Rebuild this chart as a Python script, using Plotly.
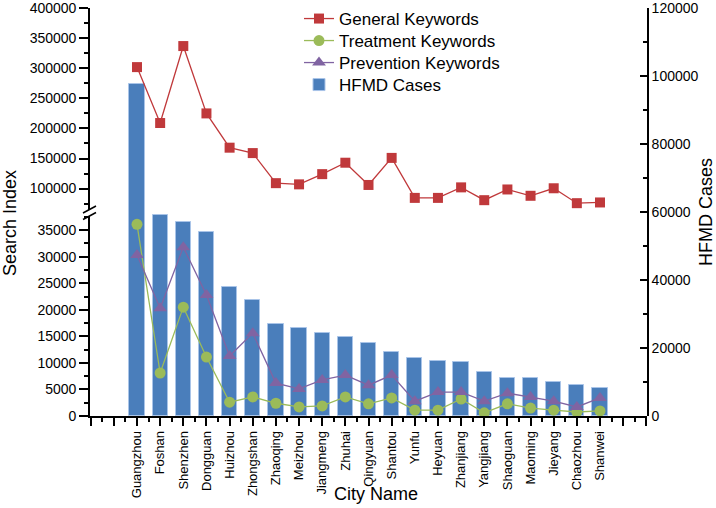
import plotly.graph_objects as go

cities = ["Guangzhou", "Foshan", "Shenzhen", "Dongguan", "Huizhou", "Zhongshan",
          "Zhaoqing", "Meizhou", "Jiangmeng", "Zhuhai", "Qingyuan", "Shantou",
          "Yunfu", "Heyuan", "Zhanjiang", "Yangjiang", "Shaoguan", "Maoming",
          "Jieyang", "Chaozhou", "Shanwei"]
general_kw = [302000, 209000, 337000, 225000, 168000, 159000, 109000, 107000, 124000,
              143000, 106000, 151000, 84500, 84500, 102000, 80700, 98500, 88000,
              100500, 75700, 76900]
treatment_kw = [36100, 8100, 20500, 11100, 2600, 3600, 2400, 1700, 1900, 3600, 2300,
                3400, 1100, 1100, 3200, 600, 2300, 1500, 1100, 750, 950]
prevention_kw = [30300, 20300, 31800, 22800, 11300, 15600, 6200, 5100, 6800, 7700, 5800,
                 7700, 2800, 4500, 4500, 2800, 4300, 3600, 2800, 1700, 3400]
hfmd_cases = [97600, 59100, 57100, 54100, 37900, 34100, 27100, 25900, 24400, 23200,
              21500, 18800, 17100, 16200, 15900, 12900, 11200, 11200, 10000, 9100, 8200]

xs = list(range(len(cities)))

# ---- layout geometry (page pixels) ----
W, H = 716, 508
PL, PR, PT, PB = 90, 647, 8, 416
PH = PB - PT
PW = PR - PL
low_top_px, up_bot_px = 216, 210
low_dom = [0, (PB - low_top_px) / PH]
up_dom = [(PB - up_bot_px) / PH, 1]
low_scale = 5.31 / 1000      # px per unit
up_scale = 0.6013 / 1000
low_max = (PB - low_top_px) / low_scale
up_top = 400300
up_min = up_top - (up_bot_px - PT) / up_scale

def px(x):
    return (x - PL) / PW

def py(y):
    return (PB - y) / PH

RED = "#C0393B"
GREEN = "#9BBB59"
PURPLE = "#8064A2"
BLUE = "#4A7EBB"
FONT = "Arial, Liberation Sans, sans-serif"

fig = go.Figure()
fig.add_trace(go.Scatter(x=xs, y=general_kw, name="General Keywords", mode="lines+markers",
                         yaxis="y3", line=dict(color=RED, width=1.3), legend="legend",
                         marker=dict(symbol="square", size=10, color=RED), cliponaxis=False))
fig.add_trace(go.Scatter(x=xs, y=treatment_kw, name="Treatment Keywords", mode="lines+markers",
                         yaxis="y2", line=dict(color=GREEN, width=1.3), legend="legend2",
                         marker=dict(symbol="circle", size=11, color=GREEN), cliponaxis=False))
fig.add_trace(go.Scatter(x=xs, y=prevention_kw, name="Prevention Keywords", mode="lines+markers",
                         yaxis="y2", line=dict(color=PURPLE, width=1.3), legend="legend3",
                         marker=dict(symbol="triangle-up", size=12, color=PURPLE), cliponaxis=False))
fig.add_trace(go.Bar(x=xs, y=hfmd_cases, name="HFMD Cases", yaxis="y", width=0.66,
                     legend="legend4",
                     marker=dict(color=BLUE, line=dict(color="#A9C4E8", width=1))))

axis_common = dict(showgrid=False, zeroline=False, showline=True, linecolor="black",
                   linewidth=1.6, tickcolor="black", tickwidth=1.5, automargin=False,
                   tickformat="d",
                   tickfont=dict(family=FONT, size=14, color="black"))

def legend_at(yc):
    return dict(x=px(299), y=py(yc), xanchor="left", yanchor="middle",
                font=dict(family=FONT, size=17, color="black"),
                bgcolor="rgba(0,0,0,0)")

ext_ticks = list(range(-2, len(cities) + 2))
fig.update_layout(
    width=W, height=H,
    margin=dict(l=PL, r=W - PR, t=PT, b=H - PB, autoexpand=False),
    paper_bgcolor="white", plot_bgcolor="rgba(0,0,0,0)",
    showlegend=True, bargap=0,
    legend=legend_at(19), legend2=legend_at(41), legend3=legend_at(63), legend4=legend_at(85),
    xaxis=dict(**{**axis_common, "tickfont": dict(family=FONT, size=13, color="black")},
               anchor="y2", range=[-2.03, len(cities) + 1.03],
               tickmode="array", tickvals=ext_ticks,
               ticktext=[cities[i] if 0 <= i < len(cities) else "" for i in ext_ticks],
               tickangle=-90, ticks="outside", ticklen=8,
               minor=dict(tickmode="array", tickvals=[i + 0.5 for i in ext_ticks[:-1]],
                          ticks="outside", ticklen=4, tickcolor="black", tickwidth=1.5)),
    yaxis=dict(**axis_common, domain=[0, 1], side="right", anchor="x",
               range=[0, 120100], dtick=20000, tick0=0, ticks="inside", ticklen=7,
               minor=dict(dtick=10000, tick0=0, ticks="inside", ticklen=4,
                          tickcolor="black", tickwidth=1.5)),
    yaxis2=dict(**axis_common, domain=low_dom, side="left", anchor="x",
                range=[0, low_max], dtick=5000, tick0=0, ticks="outside", ticklen=9,
                minor=dict(dtick=2500, tick0=0, ticks="outside", ticklen=4,
                           tickcolor="black", tickwidth=1.5)),
    yaxis3=dict(**axis_common, domain=up_dom, side="left", anchor="x",
                range=[up_min, up_top], dtick=50000, tick0=0, ticks="outside", ticklen=9,
                minor=dict(dtick=25000, tick0=0, ticks="outside", ticklen=4,
                           tickcolor="black", tickwidth=1.5)),
)

# axis break slashes
for dy in (0, 6.5):
    fig.add_shape(type="line", xref="paper", yref="paper",
                  x0=px(83), y0=py(213 + dy), x1=px(96), y1=py(206 + dy),
                  line=dict(color="black", width=1.5))

fig.add_annotation(text="Search Index", xref="paper", yref="paper", x=px(10), y=py(223),
                   textangle=-90, showarrow=False, xanchor="center", yanchor="middle",
                   font=dict(family=FONT, size=18, color="black"))
fig.add_annotation(text="HFMD Cases", xref="paper", yref="paper", x=px(706), y=py(212),
                   textangle=-90, showarrow=False, xanchor="center", yanchor="middle",
                   font=dict(family=FONT, size=18, color="black"))
fig.add_annotation(text="City Name", xref="paper", yref="paper", x=px(376), y=py(494),
                   showarrow=False, xanchor="center", yanchor="middle",
                   font=dict(family=FONT, size=18, color="black"))

fig.write_html("out.html", config={"displayModeBar": False},
               post_script="document.body.style.margin='0';document.body.style.padding='0';")
